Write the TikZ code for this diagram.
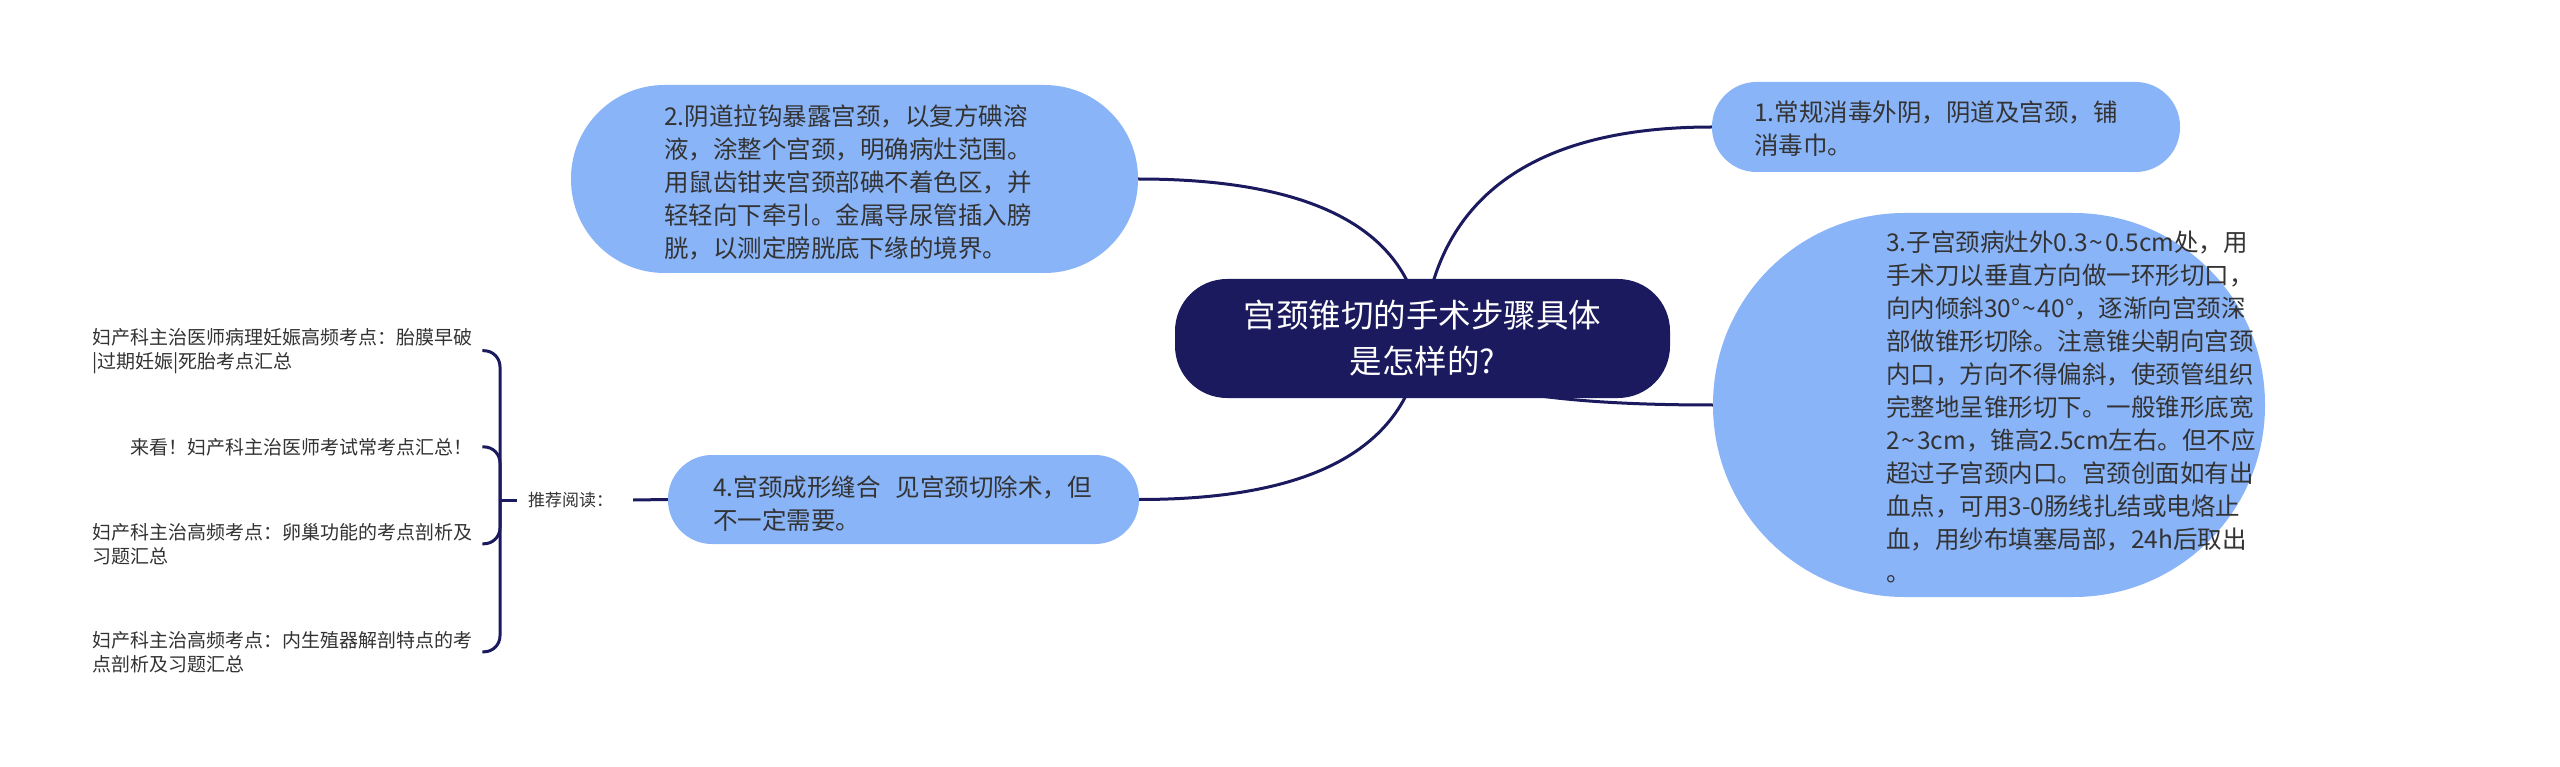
\documentclass[tikz,border=0pt]{standalone}
\usepackage{fontspec}
\setmainfont{Noto Sans CJK SC}
\pgfdeclarelayer{back}
\pgfdeclarelayer{bg}
\pgfsetlayers{back,bg,main}
\definecolor{navy}{HTML}{1B1A5E}
\definecolor{bubble}{HTML}{8AB4F8}
\definecolor{txt}{HTML}{333333}
\newcommand\fstrut{\rule{0pt}{0.88em}}
\newcommand\tld{\hspace{0.08em}\char"7E\hspace{0.08em}}
\begin{document}
\begin{tikzpicture}[x=1pt,y=-1pt,
  bub/.style={fill=bubble, inner sep=0pt},
  body/.style={anchor=north west, inner sep=0pt, align=left, text=txt, font=\fontsize{24.5}{33}\selectfont},
  item/.style={anchor=north west, inner sep=0pt, align=left, text=txt, font=\fontsize{19}{24}\selectfont},
  conn/.style={draw=navy, line width=3pt},
]
\begin{pgfonlayer}{back}
\fill[white] (0,0) rectangle (2560,767);
\end{pgfonlayer}
\useasboundingbox (0,0) rectangle (2560,767);

% root
\node[fill=navy, rounded corners=52pt, minimum width=495pt, minimum height=119pt, inner sep=0pt,
      text=white, align=center, font=\fontsize{32.5}{46}\selectfont] (root) at (1422.5,338.5)
      {宫颈锥切的手术步骤具体\\是怎样的?};

% bubbles
\node[bub, rounded corners=44.5pt, minimum width=468pt, minimum height=90pt] (n1) at (1946,127) {};
\node[bub, rounded corners=93.5pt, minimum width=567pt, minimum height=188pt] (n2) at (854.5,179) {};
\node[bub, rounded corners=191.5pt, minimum width=552pt, minimum height=384pt] (n3) at (1989,405) {};
\node[bub, rounded corners=44pt, minimum width=471pt, minimum height=89pt] (n4) at (903.5,499.5) {};

% texts
\node[body] (t1) at (1754,99.75) {\fstrut 1.常规消毒外阴，阴道及宫颈，铺\\消毒巾。};
\node[body] (t2) at (664,103.75) {\fstrut 2.阴道拉钩暴露宫颈，以复方碘溶\\液，涂整个宫颈，明确病灶范围。\\用鼠齿钳夹宫颈部碘不着色区，并\\轻轻向下牵引。金属导尿管插入膀\\胱，以测定膀胱底下缘的境界。};
\node[body] (t3) at (1886,229.75) {\fstrut 3.子宫颈病灶外0.3\tld 0.5cm处，用\\手术刀以垂直方向做一环形切口，\\向内倾斜30°\tld 40°，逐渐向宫颈深\\部做锥形切除。注意锥尖朝向宫颈\\内口，方向不得偏斜，使颈管组织\\完整地呈锥形切下。一般锥形底宽\\2\tld 3cm，锥高2.5cm左右。但不应\\超过子宫颈内口。宫颈创面如有出\\血点，可用3-0肠线扎结或电烙止\\血，用纱布填塞局部，24h后取出\\。};
\node[body] (t4) at (713,474.75) {\fstrut 4.宫颈成形缝合\hspace{15pt}见宫颈切除术，但\\不一定需要。};

% left items
\node[item] (i1) at (92,327.5) {\fstrut 妇产科主治医师病理妊娠高频考点：胎膜早破\\|过期妊娠|死胎考点汇总};
\node[item] (i2) at (130,437.5) {\fstrut 来看！妇产科主治医师考试常考点汇总！};
\node[item] (i3) at (92,522.5) {\fstrut 妇产科主治高频考点：卵巢功能的考点剖析及\\习题汇总};
\node[item] (i4) at (92,630.5) {\fstrut 妇产科主治高频考点：内生殖器解剖特点的考\\点剖析及习题汇总};

\node[font=\fontsize{17}{20}\selectfont, text=txt, inner xsep=11pt, inner ysep=0pt] (rd) at (570.5,500) {推荐阅读：};
\coordinate (J) at (500,500);

% left bracket
\draw[conn, rounded corners=16pt] (J) |- ([xshift=10pt]i1.east);
\draw[conn, rounded corners=16pt] (J) |- ([xshift=10pt]i2.east);
\draw[conn, rounded corners=16pt] (J) |- ([xshift=10pt]i3.east);
\draw[conn, rounded corners=16pt] (J) |- ([xshift=10pt]i4.east);
\draw[conn] (J) -- (rd.west);
\draw[conn] ([xshift=9pt]rd.east) -- (n4.west);

% connectors from root
\begin{pgfonlayer}{bg}
\draw[conn] (root.center) .. controls +(12,-140) and +(-180,0) .. (n1.west);
\draw[conn] (root.center) .. controls +(-8,-106) and +(181,0) .. (n2.east);
\draw[conn] (root.center) .. controls +(-12,108) and +(177,0) .. (n4.east);
\draw[conn] (root.center) .. controls +(5,45) and +(-189,0) .. (n3.west);
\end{pgfonlayer}
\end{tikzpicture}
\end{document}
